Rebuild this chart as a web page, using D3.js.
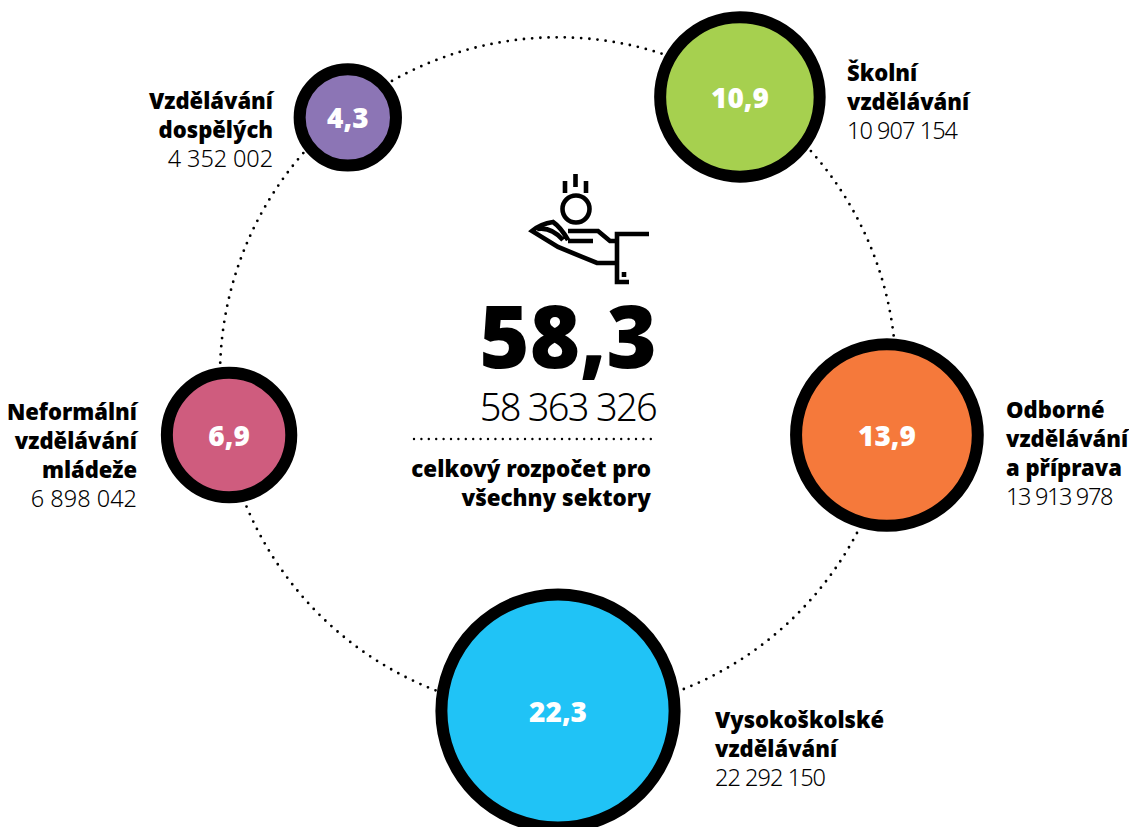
<!DOCTYPE html>
<html>
<head>
<meta charset="utf-8">
<script src="https://cdn.jsdelivr.net/npm/d3@7"></script>
<style>
  html, body { margin: 0; padding: 0; background: #fff; }
  svg { display: block; }
  text { font-family: "Noto Sans", Lato, sans-serif; fill: #000; }
  .name { font-weight: 900; font-size: 22px; }
  .amount { font-weight: 300; font-size: 23.5px; }
  .value { font-weight: 900; font-size: 28px; fill: #fff; text-anchor: middle; }
</style>
</head>
<body>
<svg id="chart" width="1129" height="827"></svg>
<script>
// rozpočet podle sektorů
const sectors = ["Školní vzdělávání", "Odborné vzdělávání a příprava", "Vysokoškolské vzdělávání", "Neformální vzdělávání mládeže", "Vzdělávání dospělých"];
const amounts = [10907154, 13913978, 22292150, 6898042, 4352002];
const amountLabels = ["10 907 154", "13 913 978", "22 292 150", "6 898 042", "4 352 002"];
const valueLabels = ["10,9", "13,9", "22,3", "6,9", "4,3"];
const nameLines = [
  ["Školní", "vzdělávání"],
  ["Odborné", "vzdělávání", "a příprava"],
  ["Vysokoškolské", "vzdělávání"],
  ["Neformální", "vzdělávání", "mládeže"],
  ["Vzdělávání", "dospělých"]
];
const colors = ["#a6d04f", "#f5793b", "#20c3f6", "#cf5c7e", "#8c75b5"];
const totalLabel = "58,3";
const totalAmount = "58 363 326";
const totalCaption = ["celkový rozpočet pro", "všechny sektory"];

// layout
const cx = 558, cy = 377, orbitR = 334;
const ringCy = 375.3, ringR = 338;
const angles = [33, 100, 180, 260, 321];
const labelPos = [
  { x: 847, y: 81, anchor: "start", spacing: -0.95 },
  { x: 1006, y: 418, anchor: "start", spacing: -1.35 },
  { x: 715, y: 728, anchor: "start", spacing: -0.95 },
  { x: 137, y: 420, anchor: "end", spacing: 0 },
  { x: 273, y: 109, anchor: "end", spacing: -0.1 }
];
const lineH = 29;
const borderW = 12;

const svg = d3.select("#chart");
const r = d3.scaleSqrt().domain([0, 22292150]).range([0, 122.6]);

svg.append("circle")
  .attr("cx", cx).attr("cy", ringCy).attr("r", ringR)
  .attr("fill", "none")
  .attr("stroke", "#000")
  .attr("stroke-width", 2.8)
  .attr("stroke-linecap", "round")
  .attr("stroke-dasharray", "0 8.2");

const pos = i => {
  const a = angles[i] * Math.PI / 180;
  return [cx + orbitR * Math.sin(a), cy - orbitR * Math.cos(a)];
};

const bubble = svg.selectAll("g.bubble")
  .data(sectors)
  .enter()
  .append("g")
  .attr("class", "bubble")
  .attr("transform", (d, i) => "translate(" + pos(i) + ")");

bubble.append("circle")
  .attr("r", (d, i) => r(amounts[i]) - borderW / 2)
  .attr("fill", (d, i) => colors[i])
  .attr("stroke", "#000")
  .attr("stroke-width", borderW);

bubble.append("text")
  .attr("class", "value")
  .attr("y", 11)
  .text((d, i) => valueLabels[i]);

// popisky
sectors.forEach((s, i) => {
  const p = labelPos[i];
  const t = svg.append("text").attr("text-anchor", p.anchor);
  nameLines[i].forEach((l, j) => {
    t.append("tspan").attr("class", "name").attr("x", p.x).attr("y", p.y + j * lineH).text(l);
  });
  t.append("tspan").attr("class", "amount").attr("x", p.x).attr("y", p.y + nameLines[i].length * lineH)
    .style("letter-spacing", p.spacing + "px").text(amountLabels[i]);
});

// středový blok
svg.append("text").attr("x", 657).attr("y", 368).attr("text-anchor", "end")
  .style("font-weight", 900).style("font-size", "86px").text(totalLabel);
svg.append("text").attr("x", 656).attr("y", 421).attr("text-anchor", "end")
  .style("font-weight", 300).style("font-size", "38px").style("letter-spacing", "-1.7px").text(totalAmount);
svg.append("line")
  .attr("x1", 414).attr("x2", 652).attr("y1", 439).attr("y2", 439)
  .attr("stroke", "#000").attr("stroke-width", 2.4)
  .attr("stroke-linecap", "round").attr("stroke-dasharray", "0 7.4");
totalCaption.forEach((l, i) => {
  svg.append("text").attr("x", 651).attr("y", 477 + i * 29).attr("text-anchor", "end")
    .style("font-weight", 900).style("font-size", "22.4px").text(l);
});

// ikona ruka s mincí
const icon = svg.append("g").attr("fill", "none").attr("stroke", "#000").attr("stroke-width", 4.6);
icon.append("circle").attr("cx", 576).attr("cy", 209).attr("r", 13.5);
icon.append("path").attr("d", "M565 181V193M575.5 174V187M586 181V193");
icon.append("path").attr("d", "M568 231H598L610 241H615");
icon.append("path").attr("d", "M568 241H593M615 263H597L558 247L532 231C538 226 546 223 553 222C559 226 564 233 568 240M537 229C548 227 556 232 563 240");
icon.append("path").attr("d", "M649 234H617V282H629");
icon.append("path").attr("d", "M624 272V277");
</script>
</body>
</html>
